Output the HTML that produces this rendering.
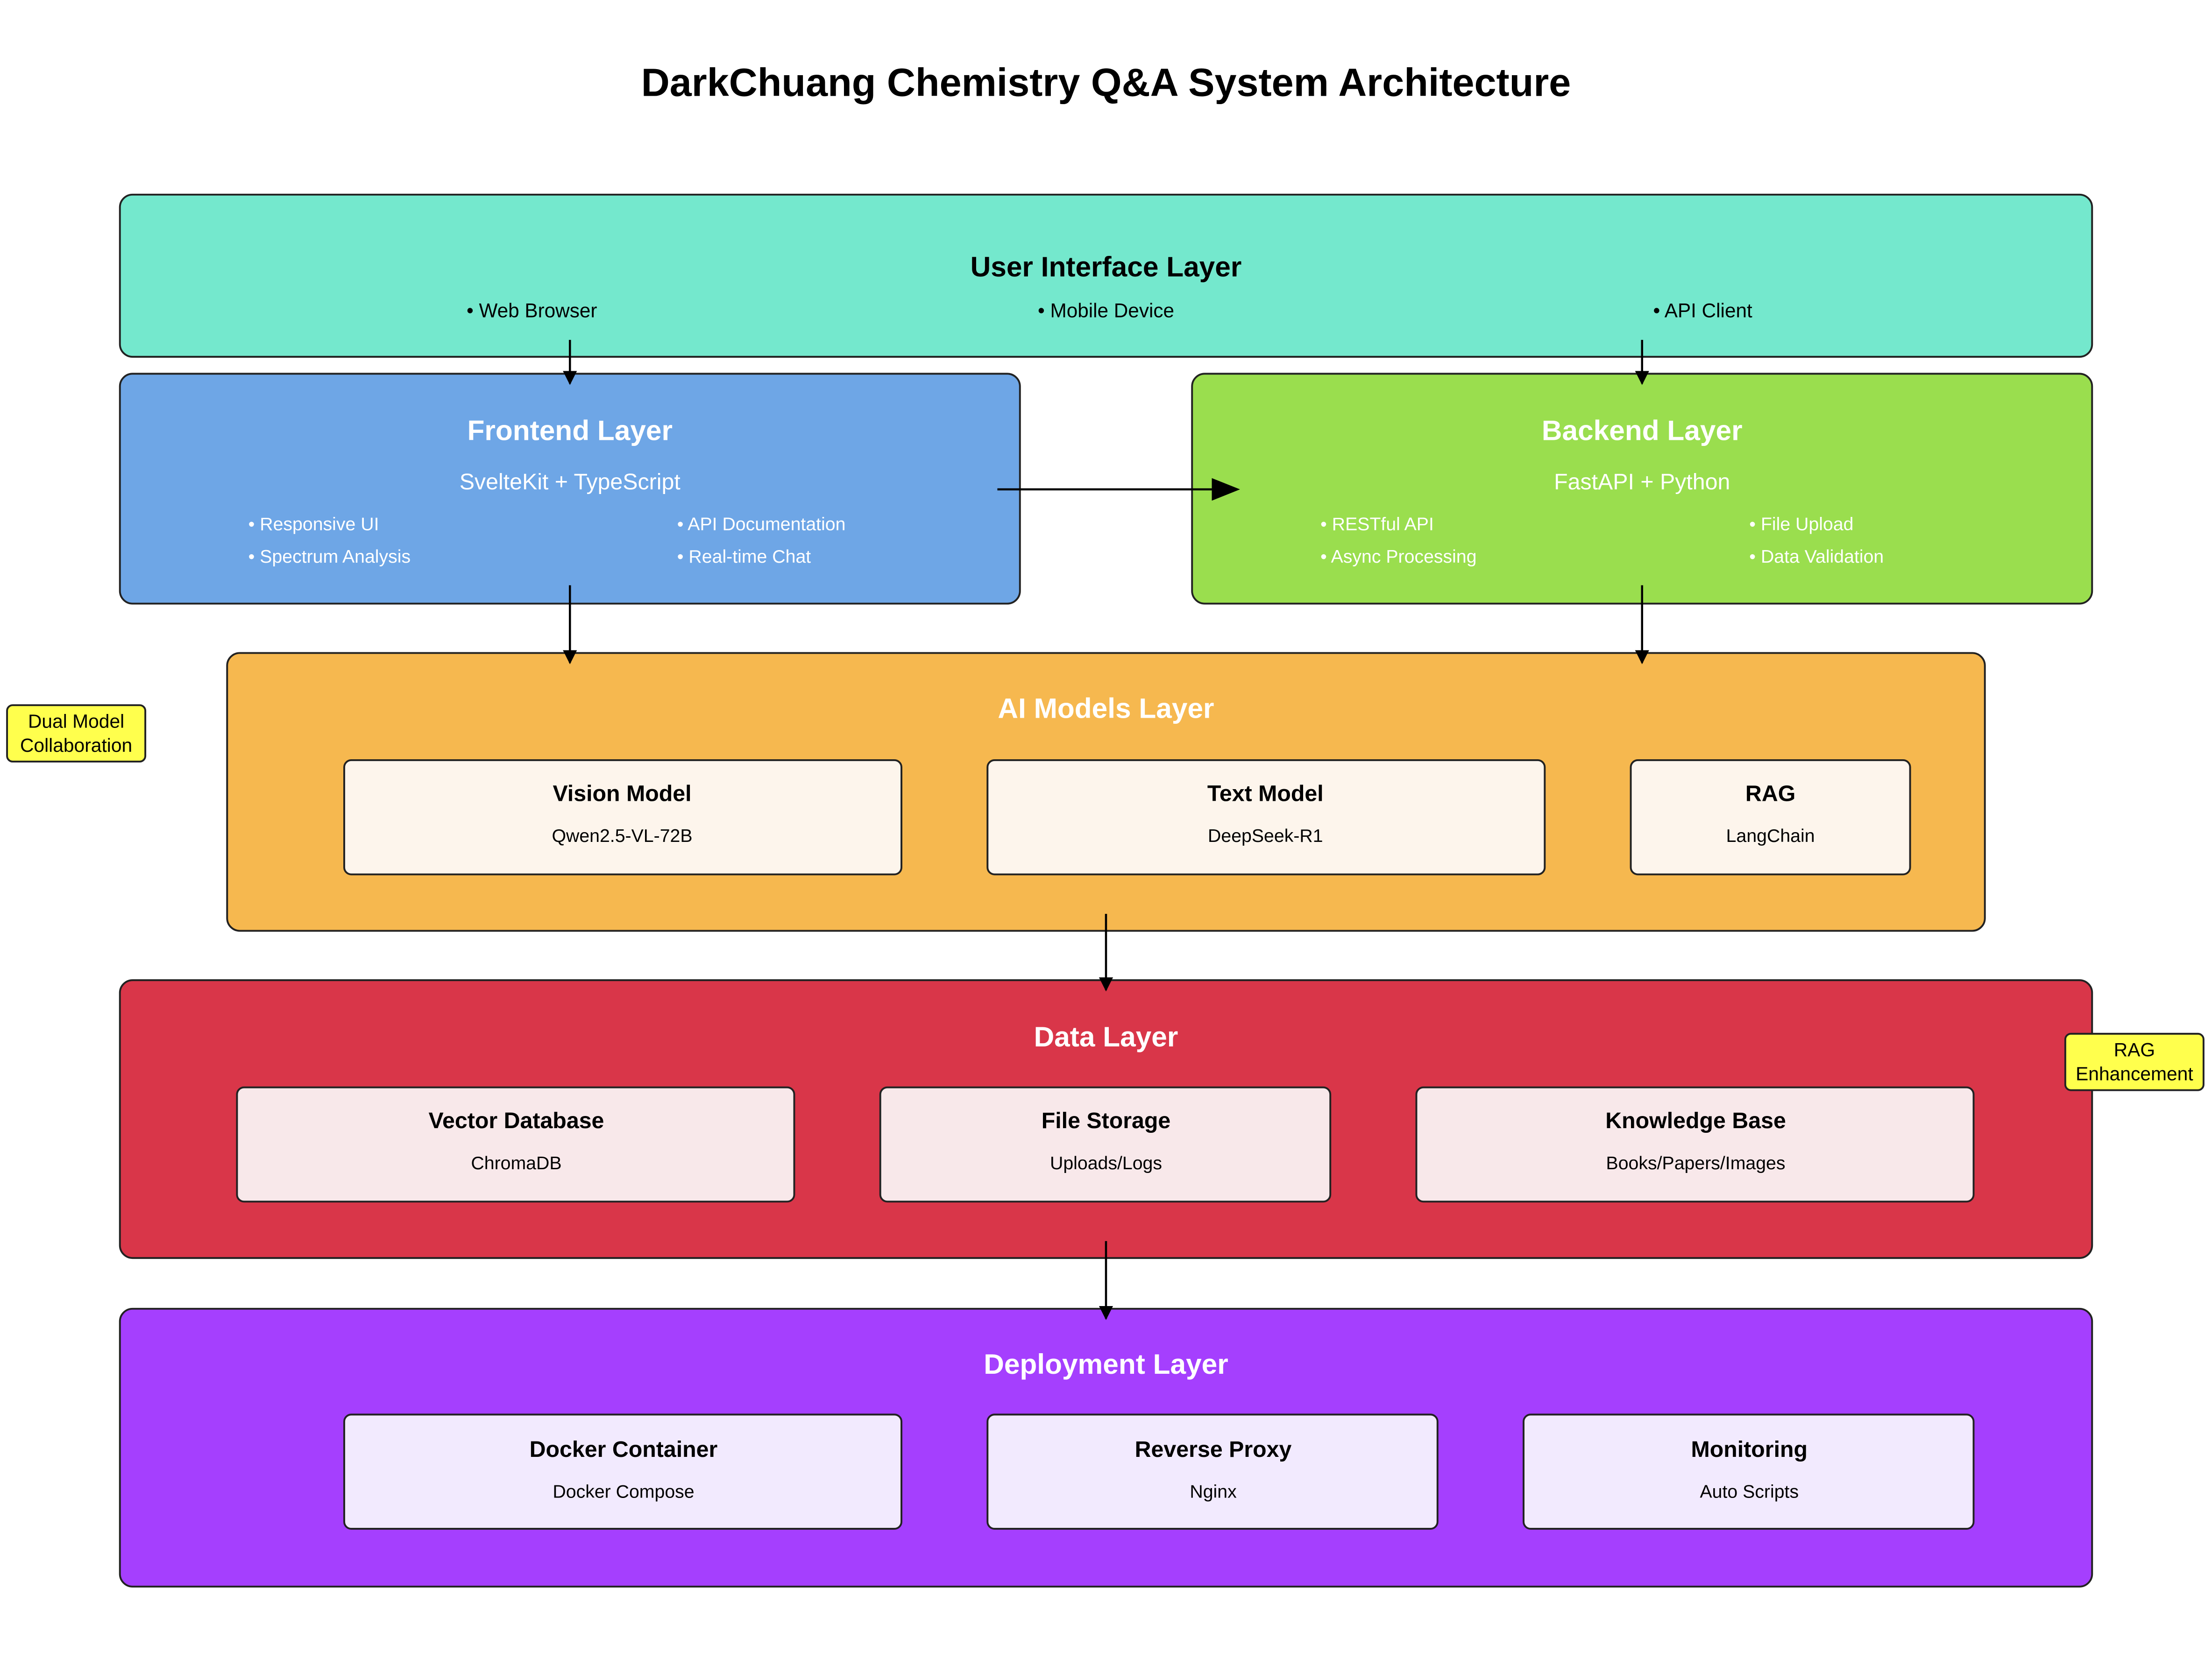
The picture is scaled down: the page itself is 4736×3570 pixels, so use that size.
<!DOCTYPE html>
<html><head><meta charset="utf-8"><style>html,body{margin:0;padding:0;background:#fff}svg{display:block}</style></head>
<body>
<svg width="4736" height="3570" viewBox="0 0 1568 1182" preserveAspectRatio="none" xmlns="http://www.w3.org/2000/svg" font-family="'Liberation Sans', sans-serif">
<defs>
<marker id="ah" markerWidth="10" markerHeight="10" refX="9" refY="5" orient="auto" markerUnits="userSpaceOnUse"><path d="M0,0 L10,5 L0,10 z" fill="#000"/></marker>
<marker id="ah2" markerWidth="20" markerHeight="16" refX="18" refY="8" orient="auto" markerUnits="userSpaceOnUse"><path d="M0,0 L20,8 L0,16 z" fill="#000"/></marker>
</defs>
<rect width="1568" height="1182" fill="#fff"/>
<text x="784" y="68" text-anchor="middle" font-size="28" font-weight="bold">DarkChuang Chemistry Q&amp;A System Architecture</text>

<g stroke="#222" stroke-width="1.3">
<rect x="85" y="138" width="1398" height="115" rx="9" fill="#74e8cd"/>
<rect x="85" y="265" width="638" height="163" rx="9" fill="#6ea6e6"/>
<rect x="845" y="265" width="638" height="163" rx="9" fill="#9ade4e"/>
<rect x="161" y="463" width="1246" height="197" rx="9" fill="#f6b84f"/>
<rect x="85" y="695" width="1398" height="197" rx="9" fill="#d93649"/>
<rect x="85" y="928" width="1398" height="197" rx="9" fill="#a53ffe"/>
<rect x="244" y="539" width="395" height="81" rx="5" fill="#fdf5ec"/>
<rect x="700" y="539" width="395" height="81" rx="5" fill="#fdf5ec"/>
<rect x="1156" y="539" width="198" height="81" rx="5" fill="#fdf5ec"/>
<rect x="168" y="771" width="395" height="81" rx="5" fill="#f8e8ea"/>
<rect x="624" y="771" width="319" height="81" rx="5" fill="#f8e8ea"/>
<rect x="1004" y="771" width="395" height="81" rx="5" fill="#f8e8ea"/>
<rect x="244" y="1003" width="395" height="81" rx="5" fill="#f2eafe"/>
<rect x="700" y="1003" width="319" height="81" rx="5" fill="#f2eafe"/>
<rect x="1080" y="1003" width="319" height="81" rx="5" fill="#f2eafe"/>
<rect x="5" y="500" width="98" height="40" rx="4" fill="#ffff4d"/>
<rect x="1464" y="733" width="98" height="40" rx="4" fill="#ffff4d"/>
</g>

<g stroke="#000" stroke-width="1.5">
<line x1="404" y1="241" x2="404" y2="272" marker-end="url(#ah)"/>
<line x1="1164" y1="241" x2="1164" y2="272" marker-end="url(#ah)"/>
<line x1="707" y1="347" x2="877" y2="347" marker-end="url(#ah2)"/>
<line x1="404" y1="415" x2="404" y2="470" marker-end="url(#ah)"/>
<line x1="1164" y1="415" x2="1164" y2="470" marker-end="url(#ah)"/>
<line x1="784" y1="648" x2="784" y2="702" marker-end="url(#ah)"/>
<line x1="784" y1="880" x2="784" y2="935" marker-end="url(#ah)"/>
</g>

<g text-anchor="middle">
<text x="784" y="196" font-size="20" font-weight="bold">User Interface Layer</text>
<g font-size="14"><text x="377" y="225">• Web Browser</text><text x="784" y="225">• Mobile Device</text><text x="1207" y="225">• API Client</text></g>

<g fill="#fff">
<text x="404" y="312" font-size="20" font-weight="bold">Frontend Layer</text>
<text x="404" y="347" font-size="16">SvelteKit + TypeScript</text>
<text x="1164" y="312" font-size="20" font-weight="bold">Backend Layer</text>
<text x="1164" y="347" font-size="16">FastAPI + Python</text>
<text x="784" y="509" font-size="20" font-weight="bold">AI Models Layer</text>
<text x="784" y="742" font-size="20" font-weight="bold">Data Layer</text>
<text x="784" y="974" font-size="20" font-weight="bold">Deployment Layer</text>
</g>
<g fill="#fff" font-size="13" text-anchor="start">
<text x="176" y="376">• Responsive UI</text><text x="176" y="399">• Spectrum Analysis</text>
<text x="480" y="376">• API Documentation</text><text x="480" y="399">• Real-time Chat</text>
<text x="936" y="376">• RESTful API</text><text x="936" y="399">• Async Processing</text>
<text x="1240" y="376">• File Upload</text><text x="1240" y="399">• Data Validation</text>
</g>

<g font-size="16" font-weight="bold">
<text x="441" y="568">Vision Model</text><text x="897" y="568">Text Model</text><text x="1255" y="568">RAG</text>
<text x="366" y="800">Vector Database</text><text x="784" y="800">File Storage</text><text x="1202" y="800">Knowledge Base</text>
<text x="442" y="1033">Docker Container</text><text x="860" y="1033">Reverse Proxy</text><text x="1240" y="1033">Monitoring</text>
</g>
<g font-size="13">
<text x="441" y="597">Qwen2.5-VL-72B</text><text x="897" y="597">DeepSeek-R1</text><text x="1255" y="597">LangChain</text>
<text x="366" y="829">ChromaDB</text><text x="784" y="829">Uploads/Logs</text><text x="1202" y="829">Books/Papers/Images</text>
<text x="442" y="1062">Docker Compose</text><text x="860" y="1062">Nginx</text><text x="1240" y="1062">Auto Scripts</text>
</g>
<g font-size="13.5">
<text x="54" y="516">Dual Model</text><text x="54" y="533">Collaboration</text>
<text x="1513" y="749">RAG</text><text x="1513" y="766">Enhancement</text>
</g>
</g>
</svg>
</body></html>
